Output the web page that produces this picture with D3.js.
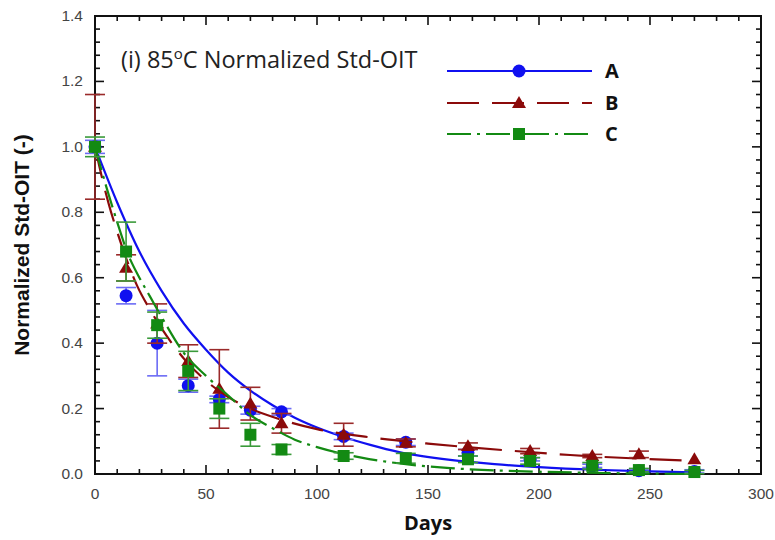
<!DOCTYPE html>
<html><head><meta charset="utf-8">
<script src="https://cdn.jsdelivr.net/npm/d3@7"></script>
<style>body{margin:0;background:#fff;} svg{display:block;}</style>
</head><body>
<svg id="chart" width="775" height="540"></svg>
<script>
// ---- data ----
const days = [0, 14, 28, 42, 56, 70, 84, 112, 140, 168, 196, 224, 245, 270];
const seriesNames = ["A", "B", "C"];
const valuesA = [1.0, 0.545, 0.40, 0.27, 0.228, 0.195, 0.19, 0.115, 0.097, 0.065, 0.045, 0.025, 0.01, 0.008];
const errorsA = [0.02, 0.025, 0.10, 0.02, 0.01, 0.012, 0.01, 0.01, 0.01, 0.01, 0.005, 0.005, 0.005, 0.005];
const valuesB = [1.0, 0.63, 0.46, 0.345, 0.26, 0.215, 0.155, 0.12, 0.095, 0.085, 0.07, 0.055, 0.06, 0.045];
const errorsB = [0.16, 0.04, 0.06, 0.05, 0.12, 0.05, 0.03, 0.035, 0.012, 0.01, 0.008, 0.005, 0.01, 0.0];
const valuesC = [1.0, 0.68, 0.455, 0.315, 0.2, 0.12, 0.075, 0.055, 0.048, 0.045, 0.04, 0.025, 0.012, 0.006];
const errorsC = [0.03, 0.09, 0.04, 0.06, 0.03, 0.035, 0.015, 0.01, 0.015, 0.01, 0.01, 0.01, 0.005, 0.005];
// fitted curves
const fitDaysA = [0, 10, 20, 30, 40, 50, 60, 70, 80, 90, 100, 112, 124, 137, 160, 180, 200, 225, 250, 270];
const fitA = [1.0, 0.83, 0.68, 0.56, 0.46, 0.38, 0.31, 0.255, 0.21, 0.172, 0.142, 0.113, 0.089, 0.067, 0.043, 0.03, 0.021, 0.013, 0.008, 0.005];
const fitDaysB = [0, 3, 6, 10, 14, 19, 25, 30, 41, 50, 60, 70, 83, 100, 124, 150, 184, 214, 245, 270];
const fitB = [1.0, 0.91, 0.83, 0.74, 0.66, 0.575, 0.5, 0.445, 0.345, 0.285, 0.235, 0.2, 0.168, 0.137, 0.112, 0.093, 0.073, 0.058, 0.047, 0.04];
const fitDaysC = [0, 5, 10, 15, 20, 25, 30, 40, 50, 60, 70, 80, 90, 100, 120, 140, 160, 180, 200, 230, 270];
const fitC = [1.0, 0.88, 0.77, 0.67, 0.6, 0.54, 0.48, 0.37, 0.30, 0.24, 0.18, 0.14, 0.105, 0.082, 0.05, 0.03, 0.018, 0.011, 0.007, 0.003, 0.0];
const xTicks = [0, 50, 100, 150, 200, 250, 300];
const yTicks = [0.0, 0.2, 0.4, 0.6, 0.8, 1.0, 1.2, 1.4];
const titleText = ["(i) 85", "o", "C Normalized Std-OIT"];
const xLabel = "Days";
const yLabel = "Normalized Std-OIT (-)";

// ---- layout ----
const svg = d3.select("#chart");
const L = 95, R = 761, T = 16, B = 474;
const x = d3.scaleLinear().domain([0, 300]).range([L, R]);
const y = d3.scaleLinear().domain([0, 1.4]).range([B, T]);

const colors = {A: "#1010f0", B: "#8b0a0a", C: "#138a13"};
const errColors = {A: "#6b6bf5", B: "#9a2a2a", C: "#3a9a3a"};
const dashes = {A: null, B: "32,13", C: "24,6,3,6"};

const series = [
  {name: "A", vals: valuesA, errs: errorsA, fx: fitDaysA, fy: fitA, marker: "circle"},
  {name: "B", vals: valuesB, errs: errorsB, fx: fitDaysB, fy: fitB, marker: "triangle"},
  {name: "C", vals: valuesC, errs: errorsC, fx: fitDaysC, fy: fitC, marker: "square"}
];

// frame
svg.append("rect").attr("x", L).attr("y", T).attr("width", R - L).attr("height", B - T)
  .attr("fill", "none").attr("stroke", "#111").attr("stroke-width", 2);

// ticks (inward, all four sides)
const g = svg.append("g").attr("stroke", "#111").attr("stroke-width", 1.6);
const xMinor = d3.range(0, 301, 10);
xMinor.forEach(d => {
  const major = d % 50 === 0;
  const len = major ? 9 : 5;
  g.append("line").attr("x1", x(d)).attr("x2", x(d)).attr("y1", B).attr("y2", B - len);
  g.append("line").attr("x1", x(d)).attr("x2", x(d)).attr("y1", T).attr("y2", T + len);
});
const yMinor = d3.range(0, 36).map(i => i * 0.04);
yMinor.forEach((d, i) => {
  const major = i % 5 === 0;
  const len = major ? 9 : 5;
  g.append("line").attr("x1", L).attr("x2", L + len).attr("y1", y(d)).attr("y2", y(d));
  g.append("line").attr("x1", R).attr("x2", R - len).attr("y1", y(d)).attr("y2", y(d));
});

// tick labels
svg.append("g").selectAll("text").data(xTicks).join("text")
  .attr("x", d => x(d)).attr("y", 499).attr("text-anchor", "middle")
  .attr("font-family", "Liberation Sans, Arial, sans-serif").attr("font-size", 15.5)
  .attr("fill", "#444").text(d => d);
svg.append("g").selectAll("text").data(yTicks).join("text")
  .attr("x", 83).attr("y", d => y(d) + 5).attr("text-anchor", "end")
  .attr("font-family", "Liberation Sans, Arial, sans-serif").attr("font-size", 15.5)
  .attr("fill", "#444").text(d => d.toFixed(1));

// axis titles
svg.append("text").attr("x", x(150)).attr("y", 530).attr("text-anchor", "middle")
  .attr("font-family", "Open Sans, sans-serif").attr("font-weight", "bold").attr("font-size", 20)
  .attr("fill", "#111").text(xLabel);
svg.append("text").attr("transform", "translate(29,245) rotate(-90)").attr("text-anchor", "middle")
  .attr("font-family", "Liberation Sans, Arial, sans-serif").attr("font-weight", "bold").attr("font-size", 21)
  .attr("fill", "#111").text(yLabel);

// title
const tt = svg.append("text").attr("x", 121).attr("y", 68)
  .attr("font-family", "Open Sans, sans-serif").attr("font-size", 23.5).attr("fill", "#222");
tt.append("tspan").text(titleText[0]);
tt.append("tspan").attr("dy", -9).attr("font-size", 15).text(titleText[1]);
tt.append("tspan").attr("dy", 9).text(titleText[2]);

// markers
function drawMarker(sel, type, cx, cy, color) {
  if (type === "circle") {
    sel.append("circle").attr("cx", cx).attr("cy", cy).attr("r", 6.5).attr("fill", color);
  } else if (type === "triangle") {
    const s = 7;
    sel.append("path").attr("d", `M${cx},${cy - s}L${cx + s},${cy + s * 0.7}L${cx - s},${cy + s * 0.7}Z`).attr("fill", color);
  } else {
    const s = 6;
    sel.append("rect").attr("x", cx - s).attr("y", cy - s).attr("width", 2 * s).attr("height", 2 * s).attr("fill", color);
  }
}

const line = d3.line().x(d => x(d[0])).y(d => y(d[1])).curve(d3.curveMonotoneX);
const plot = svg.append("g");

series.forEach(s => {
  const gg = plot.append("g");
  gg.append("path").datum(s.fx.map((d, i) => [d, s.fy[i]])).attr("d", line)
    .attr("fill", "none").attr("stroke", colors[s.name]).attr("stroke-width", 2.2)
    .attr("stroke-dasharray", dashes[s.name]);
  days.forEach((d, i) => {
    const v = s.vals[i], e = s.errs[i];
    if (e > 0) {
      const eg = gg.append("g").attr("stroke", errColors[s.name]).attr("stroke-width", 1.6);
      eg.append("line").attr("x1", x(d)).attr("x2", x(d)).attr("y1", y(v - e)).attr("y2", y(v + e));
      eg.append("line").attr("x1", x(d) - 10).attr("x2", x(d) + 10).attr("y1", y(v - e)).attr("y2", y(v - e));
      eg.append("line").attr("x1", x(d) - 10).attr("x2", x(d) + 10).attr("y1", y(v + e)).attr("y2", y(v + e));
    }
    drawMarker(gg, s.marker, x(d), y(v), colors[s.name]);
  });
});

// legend
const legY = [71, 103, 134];
series.forEach((s, i) => {
  const lg = svg.append("g");
  lg.append("line").attr("x1", 447).attr("x2", 592).attr("y1", legY[i]).attr("y2", legY[i])
    .attr("stroke", colors[s.name]).attr("stroke-width", 2.2).attr("stroke-dasharray", dashes[s.name]);
  drawMarker(lg, s.marker, 519, legY[i], colors[s.name]);
  lg.append("text").attr("x", 605).attr("y", legY[i] + 7)
    .attr("font-family", "Open Sans, sans-serif").attr("font-weight", "bold").attr("font-size", 20)
    .attr("fill", "#111").text(s.name);
});
</script>
</body></html>
